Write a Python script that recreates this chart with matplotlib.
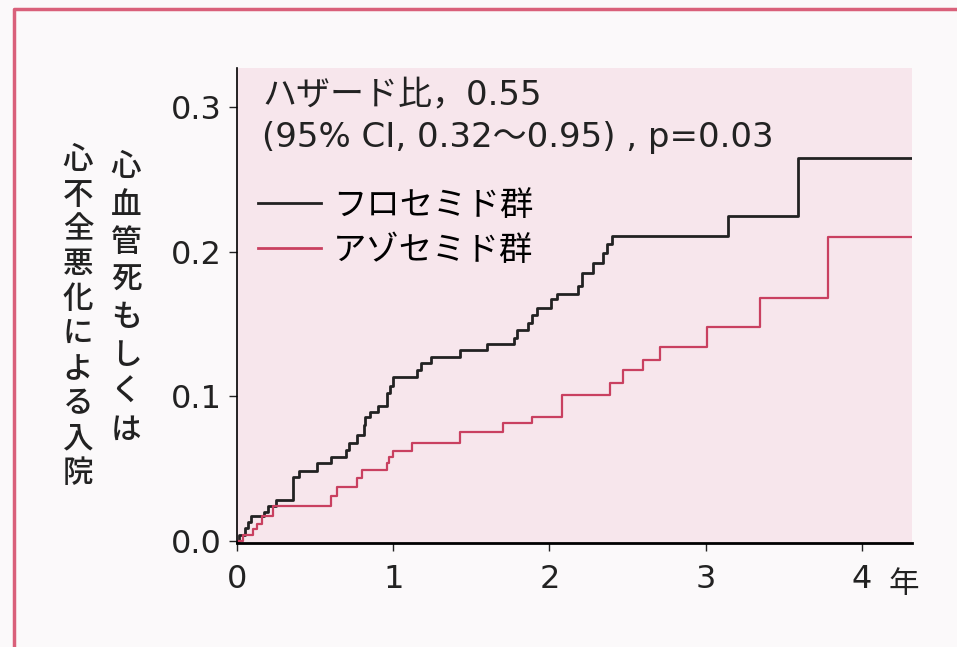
import matplotlib
matplotlib.use("Agg")
import matplotlib.pyplot as plt
from matplotlib.lines import Line2D

plt.rcParams['font.family'] = ['DejaVu Sans', 'Noto Sans CJK JP']

# --- data (cumulative incidence, step curves) ---
furo_t = [0, 0.01, 0.05, 0.07, 0.09, 0.17, 0.20, 0.25, 0.36, 0.40, 0.51, 0.60, 0.70,
          0.72, 0.77, 0.81, 0.82, 0.85, 0.90, 0.96, 0.98, 1.00, 1.15, 1.18, 1.24,
          1.43, 1.60, 1.77, 1.79, 1.86, 1.89, 1.92, 2.01, 2.05, 2.18, 2.21, 2.28,
          2.34, 2.37, 2.40, 3.14, 3.59, 4.32]
furo_v = [0, 0.004, 0.009, 0.013, 0.017, 0.020, 0.024, 0.028, 0.044, 0.048, 0.054,
          0.058, 0.063, 0.068, 0.073, 0.080, 0.086, 0.089, 0.093, 0.102, 0.107,
          0.113, 0.118, 0.123, 0.127, 0.132, 0.136, 0.140, 0.146, 0.151, 0.156,
          0.161, 0.167, 0.171, 0.176, 0.185, 0.192, 0.199, 0.205, 0.211, 0.225,
          0.265, 0.265]

azo_t = [0, 0.04, 0.10, 0.13, 0.16, 0.23, 0.60, 0.64, 0.77, 0.80, 0.96, 0.97, 1.00,
         1.12, 1.43, 1.70, 1.89, 2.08, 2.39, 2.47, 2.60, 2.71, 3.01, 3.35, 3.78, 4.32]
azo_v = [0, 0.004, 0.008, 0.012, 0.017, 0.024, 0.031, 0.0375, 0.0435, 0.049, 0.054,
         0.058, 0.062, 0.068, 0.0755, 0.0815, 0.086, 0.101, 0.109, 0.118, 0.125,
         0.134, 0.148, 0.168, 0.210, 0.210]

labels = ["フロセミド群", "アゾセミド群"]
x_ticks = [0, 1, 2, 3, 4]
y_ticks = [0.0, 0.1, 0.2, 0.3]
ylabel_cols = ["心不全悪化による入院", "心血管死もしくは"]

# --- figure ---
fig = plt.figure(figsize=(9.57, 6.47), dpi=100, facecolor="#fbf9fa")
ax = fig.add_axes([0.2476, 0.1607, 0.7054, 0.734])
ax.set_facecolor("#f7e6ec")

black = "#222222"
red = "#c94060"
ax.step(furo_t, furo_v, where="post", color=black, lw=2.0, label=labels[0])
ax.step(azo_t, azo_v, where="post", color=red, lw=1.6, label=labels[1])

ax.set_xlim(0, 4.32)
ax.set_ylim(-0.0015, 0.327)
ax.set_xticks(x_ticks)
ax.set_yticks(y_ticks)
ax.set_yticklabels([f"{v:.1f}" for v in y_ticks])
ax.tick_params(axis="both", labelsize=23, length=6, width=1, direction="out",
               colors="#222222")
ax.tick_params(axis="x", pad=9)
ax.tick_params(axis="y", pad=5)
for s in ["top", "right"]:
    ax.spines[s].set_visible(False)
ax.spines["left"].set_linewidth(1.2)
ax.spines["bottom"].set_linewidth(2.0)

# unit after the last tick
ax.text(4.27, -0.03, "年", transform=ax.transData, fontsize=22,
        family="Noto Sans CJK JP", ha="center", va="center", color="#222222",
        clip_on=False)

# annotation
ax.text(262 / 957, 1 - 96 / 647, "ハザード比，0.55", transform=fig.transFigure,
        fontsize=24.5, ha="left", va="center", color="#222222")
ax.text(262 / 957, 1 - 138 / 647, "(95% CI, 0.32～0.95) , p=0.03",
        transform=fig.transFigure, fontsize=24.5, ha="left", va="center", color="#222222")

leg = ax.legend(loc="upper left", bbox_to_anchor=(258 / 957, 1 - 189 / 647),
                bbox_transform=fig.transFigure, frameon=False, fontsize=24,
                handlelength=1.9, handletextpad=0.35, labelspacing=0.35,
                borderaxespad=0, borderpad=0)
for h in leg.get_lines():
    h.set_linewidth(2.0)

# vertical y-axis label, two columns
fig.text(78 / 957, 1 - 317 / 647, "\n".join(ylabel_cols[0]), fontsize=22,
         family="Noto Sans CJK JP", fontweight="medium", ha="center", va="center",
         linespacing=1.16, color="#222222")
fig.text(126 / 957, 1 - 299 / 647, "\n".join(ylabel_cols[1]), fontsize=22,
         family="Noto Sans CJK JP", fontweight="medium", ha="center", va="center",
         linespacing=1.27, color="#222222")

# frame of the page box (top and left edges)
fig.add_artist(Line2D([14 / 957, 14 / 957, 1.0], [0.0, 1 - 9 / 647, 1 - 9 / 647],
                      transform=fig.transFigure, color="#d9607a", lw=2.5))

fig.savefig("out.png", dpi=100, facecolor=fig.get_facecolor())
